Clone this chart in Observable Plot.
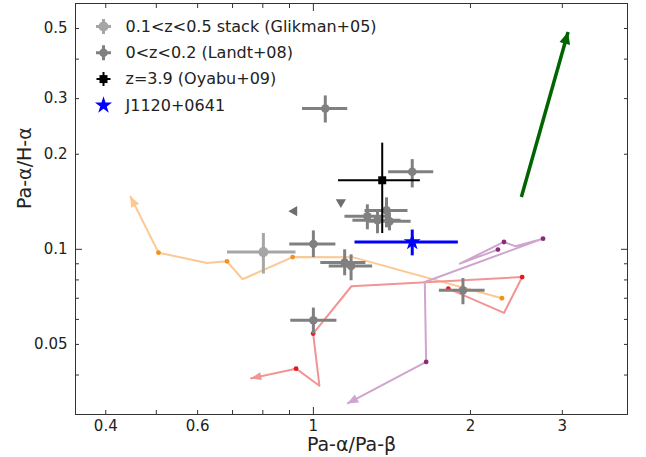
<!DOCTYPE html>
<html><head><meta charset="utf-8">
<script src="https://cdn.jsdelivr.net/npm/d3@7"></script>
<script src="https://cdn.jsdelivr.net/npm/@observablehq/plot@0.6"></script>
<style>
html,body{margin:0;padding:0;background:#fff;}
#chart{width:646px;height:457px;}
</style></head><body><div id="chart"></div>
<script>
// ---- data ----
// Glikman+05 stack
const glikX = [0.802], glikXlo = [0.683], glikXhi = [0.924];
const glikY = [0.098], glikYlo = [0.0838], glikYhi = [0.1126];
// Landt+08
const landtX   = [1.054, 1.547, 1.000, 1.269, 1.327, 1.381, 1.399, 1.148, 1.181, 1.000, 1.935];
const landtXlo = [0.951, 1.391, 0.899, 1.147, 1.188, 1.253, 1.275, 1.031, 1.070, 0.903, 1.740];
const landtXhi = [1.161, 1.697, 1.102, 1.393, 1.469, 1.515, 1.536, 1.258, 1.296, 1.107, 2.129];
const landtY   = [0.279, 0.176, 0.104, 0.1272, 0.1236, 0.1328, 0.1226, 0.0908, 0.0886, 0.0596, 0.0742];
const landtYlo = [0.252, 0.157, 0.0945, 0.1157, 0.1124, 0.1174, 0.1148, 0.0828, 0.0798, 0.0541, 0.0670];
const landtYhi = [0.307, 0.193, 0.1148, 0.1388, 0.1338, 0.1461, 0.1309, 0.1000, 0.0964, 0.0654, 0.0811];
// Landt+08 limits
const limX = [0.919, 1.129], limY = [0.132, 0.141], limDir = ["left", "down"];
// Oyabu+09
const oyaX = [1.355], oyaXlo = [1.115], oyaXhi = [1.600];
const oyaY = [0.1654], oyaYlo = [0.1126], oyaYhi = [0.2176];
// J1120+0641
const jX = [1.547], jXlo = [1.199], jXhi = [1.892];
const jY = [0.1055], jYlo = [0.0957], jYhi = [0.1155];
// model tracks (vertices; even vertices carry a dot, last is arrow tip)
const orangeX = [2.298, 1.193, 0.9126, 0.7316, 0.6829, 0.6252, 0.5048, 0.4455];
const orangeY = [0.0700, 0.0943, 0.0945, 0.0804, 0.0916, 0.0905, 0.0976, 0.1475];
const redX = [1.814, 2.319, 2.513, 1.183, 0.999, 1.027, 0.9264, 0.7571];
const redY = [0.0751, 0.0629, 0.0817, 0.0764, 0.0541, 0.0370, 0.0419, 0.0390];
const purpleX = [2.258, 1.909, 2.319, 2.442, 2.755, 1.635, 1.645, 1.161];
const purpleY = [0.0998, 0.0901, 0.1055, 0.1022, 0.1081, 0.0788, 0.0440, 0.0325];
const greenX = [2.504, 3.077];
const greenY = [0.1464, 0.4872];
// legend
const legendLabels = ["0.1<z<0.5 stack (Glikman+05)", "0<z<0.2 (Landt+08)", "z=3.9 (Oyabu+09)", "J1120+0641"];
// ticks
const xMajor = [1], xMinor = [0.4, 0.5, 0.6, 0.7, 0.8, 0.9, 2, 3];
const xLabels = [0.4, 0.6, 1, 2, 3];
const yMajor = [0.1], yMinor = [0.04, 0.05, 0.06, 0.07, 0.08, 0.09, 0.2, 0.3, 0.4, 0.5];
const yLabels = [0.05, 0.1, 0.2, 0.3, 0.5];
const xDomain = [0.35, 4], yDomain = [0.03, 0.6];

// ---- build ----
const W = 646, H = 457, mt = 3, mr = 19, mb = 43, ml = 75;
const tbl = (xs, xlo, xhi, ys, ylo, yhi) => xs.map((x, i) => ({x, xlo: xlo[i], xhi: xhi[i], y: ys[i], ylo: ylo[i], yhi: yhi[i]}));
const glik = tbl(glikX, glikXlo, glikXhi, glikY, glikYlo, glikYhi);
const landt = tbl(landtX, landtXlo, landtXhi, landtY, landtYlo, landtYhi);
const oya = tbl(oyaX, oyaXlo, oyaXhi, oyaY, oyaYlo, oyaYhi);
const jq = tbl(jX, jXlo, jXhi, jY, jYlo, jYhi);
const lims = limX.map((x, i) => ({x, y: limY[i], rot: limDir[i] === "left" ? -90 : 180}));
const path = (xs, ys) => xs.map((x, i) => ({x, y: ys[i], i, n: xs.length}));

const sx = d3.scaleLog(xDomain, [ml, W - mr]);
const sy = d3.scaleLog(yDomain, [H - mb, mt]);
function headAngle(xs, ys) {
  const n = xs.length;
  const dx = sx(xs[n - 1]) - sx(xs[n - 2]);
  const dy = sy(ys[n - 1]) - sy(ys[n - 2]);
  return Math.atan2(dx, -dy) * 180 / Math.PI;
}
const headSym = (len, half) => ({draw(ctx) { ctx.moveTo(0, 0); ctx.lineTo(half, len); ctx.lineTo(-half, len); ctx.closePath(); }});
const crossSym = (h, t) => ({draw(ctx) { ctx.rect(-h, -t, 2 * h, 2 * t); ctx.rect(-t, -h, 2 * t, 2 * h); }});

function track(xs, ys, lineColor, dotColor, hl, hw) {
  const p = path(xs, ys);
  const tip = [p[p.length - 1]];
  return [
    Plot.line(p, {x: "x", y: "y", stroke: lineColor, strokeWidth: 2, strokeLinecap: "butt"}),
    Plot.dot(tip, {x: "x", y: "y", symbol: headSym(hl, hw), fill: lineColor, stroke: "none", rotate: headAngle(xs, ys)}),
    Plot.dot(p.filter(d => d.i % 2 === 0 && d.i < d.n - 1), {x: "x", y: "y", r: 2.4, fill: dotColor, stroke: "none"})
  ];
}
function errbars(data, color, sw) {
  return [
    Plot.link(data, {x1: "xlo", x2: "xhi", y1: "y", y2: "y", stroke: color, strokeWidth: sw, strokeLinecap: "butt"}),
    Plot.link(data, {x1: "x", x2: "x", y1: "ylo", y2: "yhi", stroke: color, strokeWidth: sw, strokeLinecap: "butt"})
  ];
}

const lgTop = 23, lgStep = 26.3, lgMx = 28, lgTx = 50;
const legendMarks = [];
const lgHandles = [
  [{symbol: crossSym(7.5, 1.5), fill: "#a6a6a6"}, {symbol: "circle", r: 5, fill: "#a6a6a6"}],
  [{symbol: crossSym(7.5, 1.5), fill: "#808080"}, {symbol: "circle", r: 4.3, fill: "#808080"}],
  [{symbol: crossSym(7, 1), fill: "#000"}, {symbol: "square", r: 4.5, fill: "#000"}],
  [{symbol: "star", r: 5.4, fill: "#0000ff"}]
];
lgHandles.forEach((hs, i) => {
  hs.forEach(h => legendMarks.push(Plot.dot([0], {x: null, y: null, frameAnchor: "top-left", dx: lgMx, dy: lgTop + i * lgStep, stroke: "none", ...h})));
  legendMarks.push(Plot.text([legendLabels[i]], {frameAnchor: "top-left", dx: lgTx, dy: lgTop + i * lgStep, text: d => d, textAnchor: "start", lineAnchor: "middle", fontSize: 16, fill: "#222"}));
});

const tc = "#333";
const plot = Plot.plot({
  width: W, height: H,
  marginTop: mt, marginRight: mr, marginBottom: mb, marginLeft: ml,
  style: {fontFamily: "DejaVu Sans", fontSize: "15px", background: "white", color: "#222"},
  x: {type: "log", domain: xDomain},
  y: {type: "log", domain: yDomain},
  marks: [
    ...track(orangeX, orangeY, "#fcc894", "#f5901e", 11, 4.5),
    ...track(redX, redY, "#f39494", "#e31a1c", 11, 4),
    ...track(purpleX, purpleY, "#cfa5cf", "#8b2a7d", 11, 4.5),
    Plot.line(path(greenX, greenY), {x: "x", y: "y", stroke: "#006400", strokeWidth: 3.5, strokeLinecap: "butt"}),
    Plot.dot([path(greenX, greenY)[1]], {x: "x", y: "y", symbol: headSym(12, 5.5), fill: "#006400", stroke: "none", rotate: headAngle(greenX, greenY)}),
    ...errbars(glik, "#a6a6a6", 3),
    Plot.dot(glik, {x: "x", y: "y", r: 5, fill: "#a6a6a6"}),
    ...errbars(landt, "#808080", 3),
    Plot.dot(landt, {x: "x", y: "y", r: 4.3, fill: "#808080"}),
    Plot.dot(lims, {x: "x", y: "y", symbol: "triangle", r: 3.8, fill: "#6e6e6e", stroke: "none", rotate: "rot"}),
    ...errbars(oya, "#000", 2),
    Plot.dot(oya, {x: "x", y: "y", symbol: "square", r: 4.5, fill: "#000"}),
    ...errbars(jq, "#0000ff", 3),
    Plot.dot(jq, {x: "x", y: "y", symbol: "star", r: 5.4, fill: "#0000ff"}),
    ...legendMarks,
    Plot.frame({stroke: tc}),
    // tick marks (inward, all four sides)
    Plot.axisX(xMajor, {anchor: "bottom", tickSize: 7, dy: -7, tickFormat: () => "", label: null, stroke: tc}),
    Plot.axisX(xMinor, {anchor: "bottom", tickSize: 4, dy: -4, tickFormat: () => "", label: null, stroke: tc}),
    Plot.axisX(xMajor, {anchor: "top", tickSize: 7, dy: 7, tickFormat: () => "", label: null, stroke: tc}),
    Plot.axisX(xMinor, {anchor: "top", tickSize: 4, dy: 4, tickFormat: () => "", label: null, stroke: tc}),
    Plot.axisY(yMajor, {anchor: "left", tickSize: 7, dx: 7, tickFormat: () => "", label: null, stroke: tc}),
    Plot.axisY(yMinor, {anchor: "left", tickSize: 4, dx: 4, tickFormat: () => "", label: null, stroke: tc}),
    Plot.axisY(yMajor, {anchor: "right", tickSize: 7, dx: -7, tickFormat: () => "", label: null, stroke: tc}),
    Plot.axisY(yMinor, {anchor: "right", tickSize: 4, dx: -4, tickFormat: () => "", label: null, stroke: tc}),
    // tick labels
    Plot.axisX(xLabels, {anchor: "bottom", tickSize: 0, tickPadding: 6, tickFormat: d => String(d), label: null, fontSize: 15, fill: "#222"}),
    Plot.axisY(yLabels, {anchor: "left", tickSize: 0, tickPadding: 8, tickFormat: d => String(d), label: null, fontSize: 15, fill: "#222"}),
    // axis titles
    Plot.text(["Pa-α/Pa-β"], {frameAnchor: "bottom", dy: 30, text: d => d, fontSize: 19, lineAnchor: "middle", fill: "#222"}),
    Plot.text(["Pa-α/H-α"], {frameAnchor: "left", dx: -51, rotate: -90, text: d => d, fontSize: 19, lineAnchor: "middle", fill: "#222"})
  ]
});
document.getElementById("chart").appendChild(plot);
</script></body></html>
